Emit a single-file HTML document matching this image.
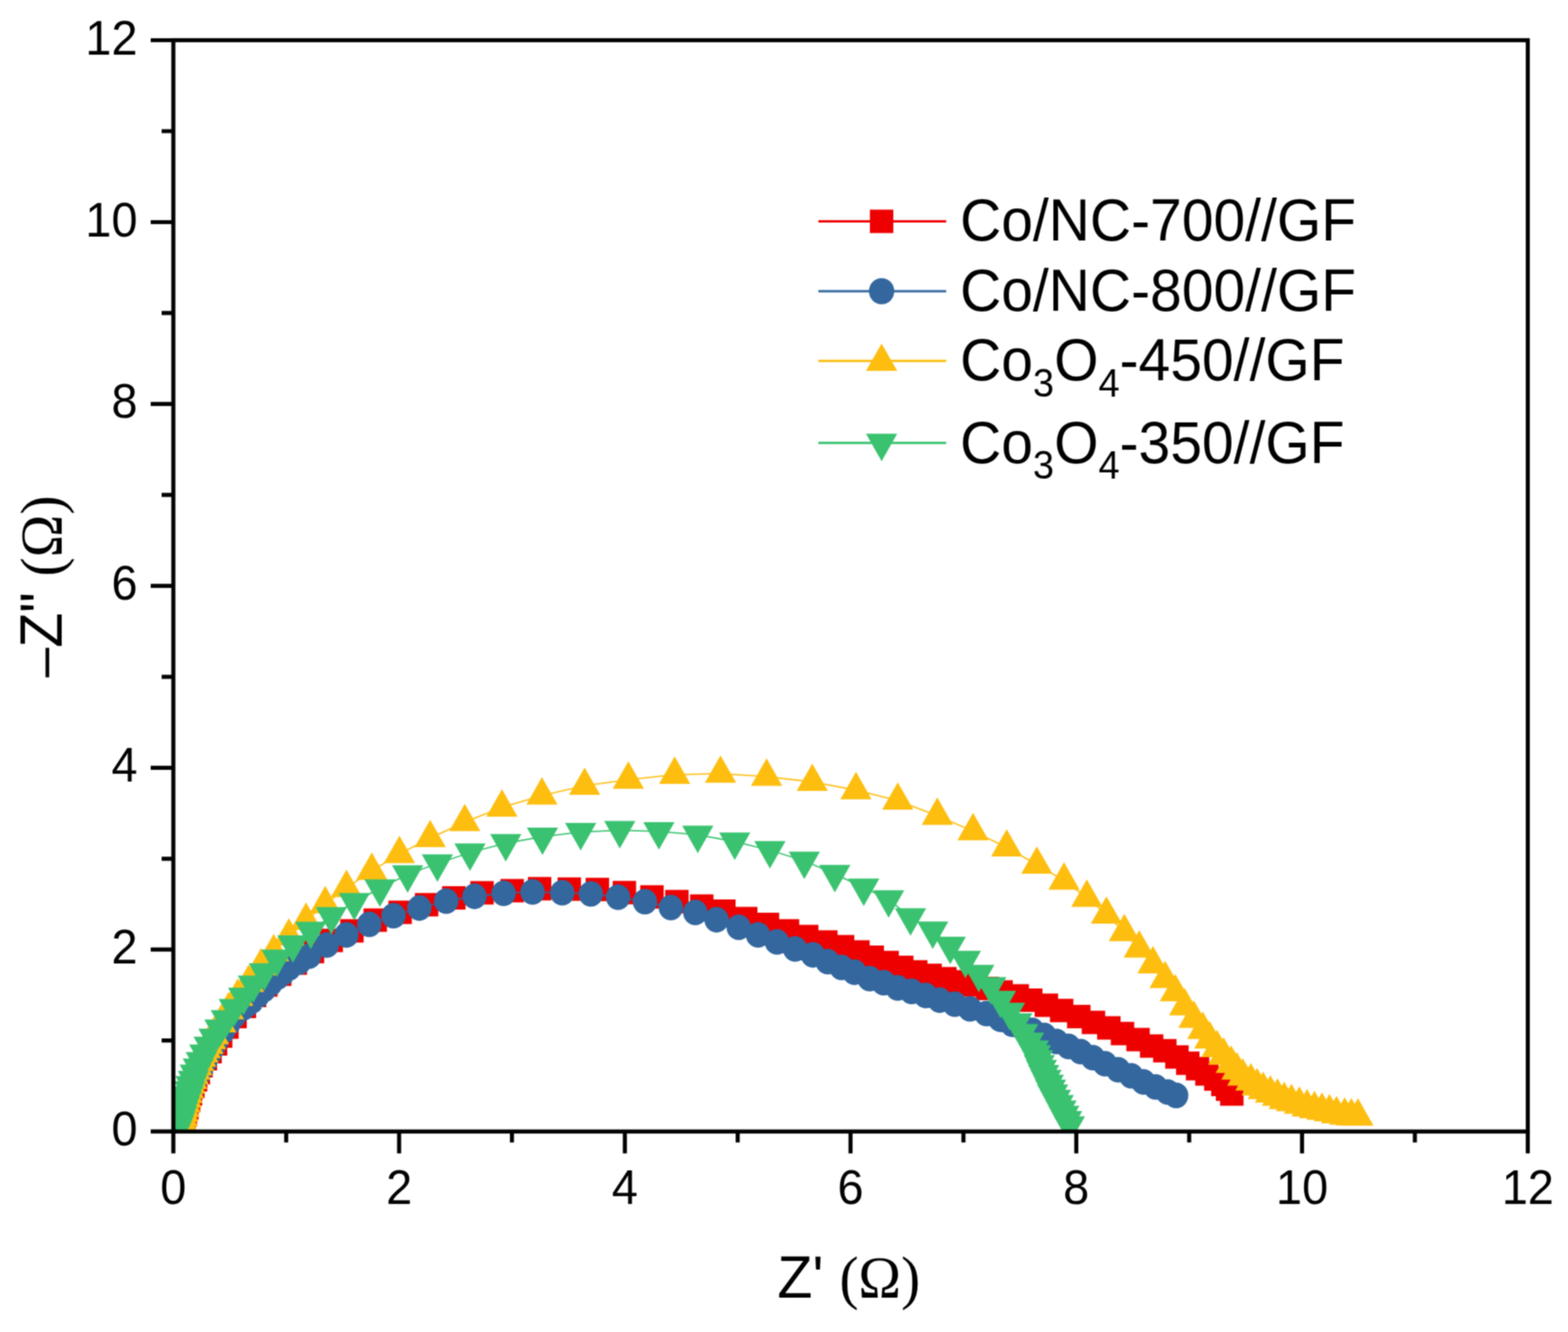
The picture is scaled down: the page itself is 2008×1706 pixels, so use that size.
<!DOCTYPE html><html><head><meta charset="utf-8"><title>Nyquist plot</title><style>html,body{margin:0;padding:0;background:#fff;}svg{display:block;}text{font-family:"Liberation Sans",Arial,sans-serif;fill:#000;}.tm{font-family:"Liberation Serif","Times New Roman",serif;}</style></head><body>
<svg width="2008" height="1706" viewBox="0 0 2008 1706">
<defs><clipPath id="pc"><rect x="222.0" y="51.5" width="1734.5" height="1397.7"/></clipPath>
<filter id="soft" x="0" y="0" width="100%" height="100%" filterUnits="userSpaceOnUse" color-interpolation-filters="sRGB"><feConvolveMatrix order="3" kernelMatrix="1 2 1 2 4 2 1 2 1" divisor="16" edgeMode="duplicate"/></filter></defs>
<g filter="url(#soft)">
<rect width="2008" height="1706" fill="#fff"/>
<g clip-path="url(#pc)">
<polyline points="234,1447 235.5,1437.5 237.3,1428 239.3,1419 241.5,1410 244,1401 247,1392 250.5,1383 254,1374 257.5,1365 263,1356 269,1347 276,1337 282.6,1327 290.6,1315.6 301,1302 313,1289 326,1275 340.5,1261.5 358.3,1247.8 378.2,1233.6 400.2,1218.7 424.2,1204.5 450.7,1192.2 480.5,1178.6 512.4,1168.4 546.3,1158.8 581.2,1150 617.3,1143.6 655.9,1140.8 691,1138.3 729,1138.8 765,1139.3 799.6,1143.2 834.9,1148.8 866.8,1154.8 898.7,1160.5 927,1167.1 955,1176.5 982.8,1184 1008.5,1192.2 1033.1,1199.4 1057.6,1206.6 1079,1212.6 1098.7,1219.3 1117,1226 1136.1,1232.8 1154.8,1239 1172.7,1244.7 1191.1,1249.2 1210,1253.4 1228,1257.5 1246,1261.5 1264.6,1266 1282,1270.6 1302.7,1275.4 1320,1281 1340,1287.5 1359.6,1294.3 1381.5,1302 1400.3,1309.4 1420,1316.5 1437.5,1323.7 1457.4,1331.4 1474.8,1339.8 1491.7,1345.7 1507.2,1353.7 1521.1,1361.7 1533.6,1368.7 1545.6,1375.6 1557,1382.1 1566,1389.1 1572,1395 1577.5,1401.3" fill="none" stroke="#EE0000" stroke-width="1.8"/>
<path fill="#EE0000" d="M219 1432h30v30h-30zM220.5 1422.5h30v30h-30zM222.3 1413h30v30h-30zM224.3 1404h30v30h-30zM226.5 1395h30v30h-30zM229 1386h30v30h-30zM232 1377h30v30h-30zM235.5 1368h30v30h-30zM239 1359h30v30h-30zM242.5 1350h30v30h-30zM248 1341h30v30h-30zM254 1332h30v30h-30zM261 1322h30v30h-30zM267.6 1312h30v30h-30zM275.6 1300.6h30v30h-30zM286 1287h30v30h-30zM298 1274h30v30h-30zM311 1260h30v30h-30zM325.5 1246.5h30v30h-30zM343.3 1232.8h30v30h-30zM363.2 1218.6h30v30h-30zM385.2 1203.7h30v30h-30zM409.2 1189.5h30v30h-30zM435.7 1177.2h30v30h-30zM465.5 1163.6h30v30h-30zM497.4 1153.4h30v30h-30zM531.3 1143.8h30v30h-30zM566.2 1135h30v30h-30zM602.3 1128.6h30v30h-30zM640.9 1125.8h30v30h-30zM676 1123.3h30v30h-30zM714 1123.8h30v30h-30zM750 1124.3h30v30h-30zM784.6 1128.2h30v30h-30zM819.9 1133.8h30v30h-30zM851.8 1139.8h30v30h-30zM883.7 1145.5h30v30h-30zM912 1152.1h30v30h-30zM940 1161.5h30v30h-30zM967.8 1169h30v30h-30zM993.5 1177.2h30v30h-30zM1018.1 1184.4h30v30h-30zM1042.6 1191.6h30v30h-30zM1064 1197.6h30v30h-30zM1083.7 1204.3h30v30h-30zM1102 1211h30v30h-30zM1121.1 1217.8h30v30h-30zM1139.8 1224h30v30h-30zM1157.7 1229.7h30v30h-30zM1176.1 1234.2h30v30h-30zM1195 1238.4h30v30h-30zM1213 1242.5h30v30h-30zM1231 1246.5h30v30h-30zM1249.6 1251h30v30h-30zM1267 1255.6h30v30h-30zM1287.7 1260.4h30v30h-30zM1305 1266h30v30h-30zM1325 1272.5h30v30h-30zM1344.6 1279.3h30v30h-30zM1366.5 1287h30v30h-30zM1385.3 1294.4h30v30h-30zM1405 1301.5h30v30h-30zM1422.5 1308.7h30v30h-30zM1442.4 1316.4h30v30h-30zM1459.8 1324.8h30v30h-30zM1476.7 1330.7h30v30h-30zM1492.2 1338.7h30v30h-30zM1506.1 1346.7h30v30h-30zM1518.6 1353.7h30v30h-30zM1530.6 1360.6h30v30h-30zM1542 1367.1h30v30h-30zM1551 1374.1h30v30h-30zM1557 1380h30v30h-30zM1562.5 1386.3h30v30h-30z"/>
<polyline points="233,1449 234.5,1440 236,1431 238,1422 240,1413 242.5,1404 245.5,1395 249,1386 253.5,1377 258,1368 263,1359 268,1350 273,1341 278.5,1331 285.5,1321 292.5,1311 299.8,1301.1 311,1291.2 316.7,1286.5 322.4,1282.1 330,1274.8 337.7,1267.6 346.4,1259.6 355.2,1251.6 362.6,1245.8 370,1240 383,1232.2 395.8,1224.7 418.5,1210.4 443.7,1197.5 472.9,1183.9 504,1172.8 537,1163 571.4,1154.2 607.7,1148 645,1144.1 682,1142.4 720,1143.4 756.6,1144.8 791.5,1149.1 825.9,1154.8 859.1,1162.3 890.4,1168.6 917.6,1178 946,1187.7 970.8,1197.4 995,1206.4 1018.2,1215.3 1041,1223 1059.9,1231.7 1077.8,1239.2 1094.2,1245.2 1113.7,1253.4 1131.6,1258.6 1149.5,1265.3 1167.5,1269.8 1185.4,1275 1203.3,1281 1222.7,1286.2 1242.2,1292.2 1263.1,1298.2 1281,1305.5 1296.5,1311.8 1309.5,1316 1321.8,1319.6 1337.3,1326.1 1352.9,1333.9 1368.4,1340.3 1383.9,1346.8 1399.5,1354.6 1415,1362.4 1431.9,1370.1 1448.7,1377.9 1464.2,1385.7 1479.8,1392.1 1495.3,1398.6 1506.2,1403" fill="none" stroke="#33679E" stroke-width="1.8"/>
<path fill="#33679E" d="M217.4 1449a15.6 16.4 0 1 0 31.2 0a15.6 16.4 0 1 0 -31.2 0zM218.9 1440a15.6 16.4 0 1 0 31.2 0a15.6 16.4 0 1 0 -31.2 0zM220.4 1431a15.6 16.4 0 1 0 31.2 0a15.6 16.4 0 1 0 -31.2 0zM222.4 1422a15.6 16.4 0 1 0 31.2 0a15.6 16.4 0 1 0 -31.2 0zM224.4 1413a15.6 16.4 0 1 0 31.2 0a15.6 16.4 0 1 0 -31.2 0zM226.9 1404a15.6 16.4 0 1 0 31.2 0a15.6 16.4 0 1 0 -31.2 0zM229.9 1395a15.6 16.4 0 1 0 31.2 0a15.6 16.4 0 1 0 -31.2 0zM233.4 1386a15.6 16.4 0 1 0 31.2 0a15.6 16.4 0 1 0 -31.2 0zM237.9 1377a15.6 16.4 0 1 0 31.2 0a15.6 16.4 0 1 0 -31.2 0zM242.4 1368a15.6 16.4 0 1 0 31.2 0a15.6 16.4 0 1 0 -31.2 0zM247.4 1359a15.6 16.4 0 1 0 31.2 0a15.6 16.4 0 1 0 -31.2 0zM252.4 1350a15.6 16.4 0 1 0 31.2 0a15.6 16.4 0 1 0 -31.2 0zM257.4 1341a15.6 16.4 0 1 0 31.2 0a15.6 16.4 0 1 0 -31.2 0zM262.9 1331a15.6 16.4 0 1 0 31.2 0a15.6 16.4 0 1 0 -31.2 0zM269.9 1321a15.6 16.4 0 1 0 31.2 0a15.6 16.4 0 1 0 -31.2 0zM276.9 1311a15.6 16.4 0 1 0 31.2 0a15.6 16.4 0 1 0 -31.2 0zM284.2 1301.1a15.6 16.4 0 1 0 31.2 0a15.6 16.4 0 1 0 -31.2 0zM295.4 1291.2a15.6 16.4 0 1 0 31.2 0a15.6 16.4 0 1 0 -31.2 0zM301.1 1286.5a15.6 16.4 0 1 0 31.2 0a15.6 16.4 0 1 0 -31.2 0zM306.8 1282.1a15.6 16.4 0 1 0 31.2 0a15.6 16.4 0 1 0 -31.2 0zM314.4 1274.8a15.6 16.4 0 1 0 31.2 0a15.6 16.4 0 1 0 -31.2 0zM322.1 1267.6a15.6 16.4 0 1 0 31.2 0a15.6 16.4 0 1 0 -31.2 0zM330.8 1259.6a15.6 16.4 0 1 0 31.2 0a15.6 16.4 0 1 0 -31.2 0zM339.6 1251.6a15.6 16.4 0 1 0 31.2 0a15.6 16.4 0 1 0 -31.2 0zM347 1245.8a15.6 16.4 0 1 0 31.2 0a15.6 16.4 0 1 0 -31.2 0zM354.4 1240a15.6 16.4 0 1 0 31.2 0a15.6 16.4 0 1 0 -31.2 0zM367.4 1232.2a15.6 16.4 0 1 0 31.2 0a15.6 16.4 0 1 0 -31.2 0zM380.2 1224.7a15.6 16.4 0 1 0 31.2 0a15.6 16.4 0 1 0 -31.2 0zM402.9 1210.4a15.6 16.4 0 1 0 31.2 0a15.6 16.4 0 1 0 -31.2 0zM428.1 1197.5a15.6 16.4 0 1 0 31.2 0a15.6 16.4 0 1 0 -31.2 0zM457.3 1183.9a15.6 16.4 0 1 0 31.2 0a15.6 16.4 0 1 0 -31.2 0zM488.4 1172.8a15.6 16.4 0 1 0 31.2 0a15.6 16.4 0 1 0 -31.2 0zM521.4 1163a15.6 16.4 0 1 0 31.2 0a15.6 16.4 0 1 0 -31.2 0zM555.8 1154.2a15.6 16.4 0 1 0 31.2 0a15.6 16.4 0 1 0 -31.2 0zM592.1 1148a15.6 16.4 0 1 0 31.2 0a15.6 16.4 0 1 0 -31.2 0zM629.4 1144.1a15.6 16.4 0 1 0 31.2 0a15.6 16.4 0 1 0 -31.2 0zM666.4 1142.4a15.6 16.4 0 1 0 31.2 0a15.6 16.4 0 1 0 -31.2 0zM704.4 1143.4a15.6 16.4 0 1 0 31.2 0a15.6 16.4 0 1 0 -31.2 0zM741 1144.8a15.6 16.4 0 1 0 31.2 0a15.6 16.4 0 1 0 -31.2 0zM775.9 1149.1a15.6 16.4 0 1 0 31.2 0a15.6 16.4 0 1 0 -31.2 0zM810.3 1154.8a15.6 16.4 0 1 0 31.2 0a15.6 16.4 0 1 0 -31.2 0zM843.5 1162.3a15.6 16.4 0 1 0 31.2 0a15.6 16.4 0 1 0 -31.2 0zM874.8 1168.6a15.6 16.4 0 1 0 31.2 0a15.6 16.4 0 1 0 -31.2 0zM902 1178a15.6 16.4 0 1 0 31.2 0a15.6 16.4 0 1 0 -31.2 0zM930.4 1187.7a15.6 16.4 0 1 0 31.2 0a15.6 16.4 0 1 0 -31.2 0zM955.2 1197.4a15.6 16.4 0 1 0 31.2 0a15.6 16.4 0 1 0 -31.2 0zM979.4 1206.4a15.6 16.4 0 1 0 31.2 0a15.6 16.4 0 1 0 -31.2 0zM1002.6 1215.3a15.6 16.4 0 1 0 31.2 0a15.6 16.4 0 1 0 -31.2 0zM1025.4 1223a15.6 16.4 0 1 0 31.2 0a15.6 16.4 0 1 0 -31.2 0zM1044.3 1231.7a15.6 16.4 0 1 0 31.2 0a15.6 16.4 0 1 0 -31.2 0zM1062.2 1239.2a15.6 16.4 0 1 0 31.2 0a15.6 16.4 0 1 0 -31.2 0zM1078.6 1245.2a15.6 16.4 0 1 0 31.2 0a15.6 16.4 0 1 0 -31.2 0zM1098.1 1253.4a15.6 16.4 0 1 0 31.2 0a15.6 16.4 0 1 0 -31.2 0zM1116 1258.6a15.6 16.4 0 1 0 31.2 0a15.6 16.4 0 1 0 -31.2 0zM1133.9 1265.3a15.6 16.4 0 1 0 31.2 0a15.6 16.4 0 1 0 -31.2 0zM1151.9 1269.8a15.6 16.4 0 1 0 31.2 0a15.6 16.4 0 1 0 -31.2 0zM1169.8 1275a15.6 16.4 0 1 0 31.2 0a15.6 16.4 0 1 0 -31.2 0zM1187.7 1281a15.6 16.4 0 1 0 31.2 0a15.6 16.4 0 1 0 -31.2 0zM1207.1 1286.2a15.6 16.4 0 1 0 31.2 0a15.6 16.4 0 1 0 -31.2 0zM1226.6 1292.2a15.6 16.4 0 1 0 31.2 0a15.6 16.4 0 1 0 -31.2 0zM1247.5 1298.2a15.6 16.4 0 1 0 31.2 0a15.6 16.4 0 1 0 -31.2 0zM1265.4 1305.5a15.6 16.4 0 1 0 31.2 0a15.6 16.4 0 1 0 -31.2 0zM1280.9 1311.8a15.6 16.4 0 1 0 31.2 0a15.6 16.4 0 1 0 -31.2 0zM1293.9 1316a15.6 16.4 0 1 0 31.2 0a15.6 16.4 0 1 0 -31.2 0zM1306.2 1319.6a15.6 16.4 0 1 0 31.2 0a15.6 16.4 0 1 0 -31.2 0zM1321.7 1326.1a15.6 16.4 0 1 0 31.2 0a15.6 16.4 0 1 0 -31.2 0zM1337.3 1333.9a15.6 16.4 0 1 0 31.2 0a15.6 16.4 0 1 0 -31.2 0zM1352.8 1340.3a15.6 16.4 0 1 0 31.2 0a15.6 16.4 0 1 0 -31.2 0zM1368.3 1346.8a15.6 16.4 0 1 0 31.2 0a15.6 16.4 0 1 0 -31.2 0zM1383.9 1354.6a15.6 16.4 0 1 0 31.2 0a15.6 16.4 0 1 0 -31.2 0zM1399.4 1362.4a15.6 16.4 0 1 0 31.2 0a15.6 16.4 0 1 0 -31.2 0zM1416.3 1370.1a15.6 16.4 0 1 0 31.2 0a15.6 16.4 0 1 0 -31.2 0zM1433.1 1377.9a15.6 16.4 0 1 0 31.2 0a15.6 16.4 0 1 0 -31.2 0zM1448.6 1385.7a15.6 16.4 0 1 0 31.2 0a15.6 16.4 0 1 0 -31.2 0zM1464.2 1392.1a15.6 16.4 0 1 0 31.2 0a15.6 16.4 0 1 0 -31.2 0zM1479.7 1398.6a15.6 16.4 0 1 0 31.2 0a15.6 16.4 0 1 0 -31.2 0zM1490.6 1403a15.6 16.4 0 1 0 31.2 0a15.6 16.4 0 1 0 -31.2 0z"/>
<polyline points="236,1452 233,1443 232.5,1437 233.5,1431 234.5,1425 235.5,1419 237,1413 238.5,1407 240,1401 241.7,1395 243.5,1389 245.5,1383 247.5,1377 249.7,1371 252,1365.5 254.5,1360 257,1354.5 260,1349 263,1343.5 266.3,1338 269.8,1332 273.6,1325.8 282.8,1310.6 292.7,1293.8 304.5,1276.6 318.4,1258.8 334.3,1237.6 350.5,1219.5 369.9,1199.4 391.9,1179.3 416.5,1158 443.7,1137.3 476.1,1115.2 511.5,1093.8 550.9,1073.4 595.2,1052.9 642.8,1034.2 694,1018.8 748.7,1006.4 804.7,998.6 864,992.2 922.7,990.9 981.7,994.7 1040.2,1001.4 1096.2,1012 1149.7,1025.4 1200.3,1044.8 1246.1,1064.5 1289.2,1085.4 1327.8,1107.4 1362.6,1127.8 1391.8,1149.7 1416.9,1171.4 1439.8,1193.8 1458.9,1214.7 1476.5,1235 1492,1253.9 1505.1,1270.9 1517,1288.7 1528.9,1304.8 1540.3,1319.1 1549.2,1331.3 1558.5,1342.4 1567,1352 1576.7,1362.6 1584,1371 1591.5,1378.7 1601.9,1385 1609.9,1391.3 1617.7,1396 1626.9,1400.5 1636,1404.5 1644.6,1408.8 1653.8,1411.5 1664,1414.8 1673.8,1418.2 1683.3,1420.5 1693,1422.6 1702.5,1424.6 1711.6,1427 1722,1428.7 1730.5,1429.8 1739,1430" fill="none" stroke="#FEBE10" stroke-width="1.8"/>
<path fill="#FEBE10" d="M236 1428.5L256 1463.7H216zM233 1419.5L253 1454.7H213zM232.5 1413.5L252.5 1448.7H212.5zM233.5 1407.5L253.5 1442.7H213.5zM234.5 1401.5L254.5 1436.7H214.5zM235.5 1395.5L255.5 1430.7H215.5zM237 1389.5L257 1424.7H217zM238.5 1383.5L258.5 1418.7H218.5zM240 1377.5L260 1412.7H220zM241.7 1371.5L261.7 1406.7H221.7zM243.5 1365.5L263.5 1400.7H223.5zM245.5 1359.5L265.5 1394.7H225.5zM247.5 1353.5L267.5 1388.7H227.5zM249.7 1347.5L269.7 1382.7H229.7zM252 1342L272 1377.2H232zM254.5 1336.5L274.5 1371.7H234.5zM257 1331L277 1366.2H237zM260 1325.5L280 1360.7H240zM263 1320L283 1355.2H243zM266.3 1314.5L286.3 1349.7H246.3zM269.8 1308.5L289.8 1343.7H249.8zM273.6 1302.3L293.6 1337.5H253.6zM282.8 1287.1L302.8 1322.3H262.8zM292.7 1270.3L312.7 1305.5H272.7zM304.5 1253.1L324.5 1288.3H284.5zM318.4 1235.3L338.4 1270.5H298.4zM334.3 1214.1L354.3 1249.3H314.3zM350.5 1196L370.5 1231.2H330.5zM369.9 1175.9L389.9 1211.1H349.9zM391.9 1155.8L411.9 1191H371.9zM416.5 1134.5L436.5 1169.7H396.5zM443.7 1113.8L463.7 1149H423.7zM476.1 1091.7L496.1 1126.9H456.1zM511.5 1070.3L531.5 1105.5H491.5zM550.9 1049.9L570.9 1085.1H530.9zM595.2 1029.4L615.2 1064.6H575.2zM642.8 1010.7L662.8 1045.9H622.8zM694 995.3L714 1030.5H674zM748.7 982.9L768.7 1018.1H728.7zM804.7 975.1L824.7 1010.3H784.7zM864 968.7L884 1003.9H844zM922.7 967.4L942.7 1002.6H902.7zM981.7 971.2L1001.7 1006.4H961.7zM1040.2 977.9L1060.2 1013.1H1020.2zM1096.2 988.5L1116.2 1023.7H1076.2zM1149.7 1001.9L1169.7 1037.1H1129.7zM1200.3 1021.3L1220.3 1056.5H1180.3zM1246.1 1041L1266.1 1076.2H1226.1zM1289.2 1061.9L1309.2 1097.1H1269.2zM1327.8 1083.9L1347.8 1119.1H1307.8zM1362.6 1104.3L1382.6 1139.5H1342.6zM1391.8 1126.2L1411.8 1161.4H1371.8zM1416.9 1147.9L1436.9 1183.1H1396.9zM1439.8 1170.3L1459.8 1205.5H1419.8zM1458.9 1191.2L1478.9 1226.4H1438.9zM1476.5 1211.5L1496.5 1246.7H1456.5zM1492 1230.4L1512 1265.6H1472zM1505.1 1247.4L1525.1 1282.6H1485.1zM1517 1265.2L1537 1300.4H1497zM1528.9 1281.3L1548.9 1316.5H1508.9zM1540.3 1295.6L1560.3 1330.8H1520.3zM1549.2 1307.8L1569.2 1343H1529.2zM1558.5 1318.9L1578.5 1354.1H1538.5zM1567 1328.5L1587 1363.7H1547zM1576.7 1339.1L1596.7 1374.3H1556.7zM1584 1347.5L1604 1382.7H1564zM1591.5 1355.2L1611.5 1390.4H1571.5zM1601.9 1361.5L1621.9 1396.7H1581.9zM1609.9 1367.8L1629.9 1403H1589.9zM1617.7 1372.5L1637.7 1407.7H1597.7zM1626.9 1377L1646.9 1412.2H1606.9zM1636 1381L1656 1416.2H1616zM1644.6 1385.3L1664.6 1420.5H1624.6zM1653.8 1388L1673.8 1423.2H1633.8zM1664 1391.3L1684 1426.5H1644zM1673.8 1394.7L1693.8 1429.9H1653.8zM1683.3 1397L1703.3 1432.2H1663.3zM1693 1399.1L1713 1434.3H1673zM1702.5 1401.1L1722.5 1436.3H1682.5zM1711.6 1403.5L1731.6 1438.7H1691.6zM1722 1405.2L1742 1440.4H1702zM1730.5 1406.3L1750.5 1441.5H1710.5zM1739 1406.5L1759 1441.7H1719z"/>
<polyline points="224,1452 226,1447 228.5,1441 230.5,1435 232.5,1429 234.2,1422.5 236.3,1416 238.5,1409.5 240.7,1403 243,1396.5 244.6,1390 247.6,1383.3 250,1375.3 253.9,1367.5 257.7,1359.1 262.2,1349.5 267.8,1339.5 274,1329.2 281.6,1317.5 289.8,1305.5 300,1291.2 312,1276.7 324.4,1261.1 338.5,1245.5 354.6,1227.9 375.1,1209.8 398,1192.3 424.3,1173.5 453.7,1155.4 486.5,1137.9 522,1120 560.1,1106 601.9,1092 647.7,1080 694.7,1071.6 743.6,1065.7 793.7,1063.3 843.8,1064.8 893.6,1069.2 940.9,1078 986,1089 1030,1102.5 1069.1,1119.4 1106.1,1136.9 1138,1152 1166,1175 1194.5,1192 1216.9,1211.5 1236.3,1229.5 1253.5,1247.4 1268.8,1263.3 1281.3,1280.8 1292.8,1296 1302,1309.5 1309.8,1323.2 1317.2,1334.3 1323.4,1344.2 1326,1350.5 1328.6,1356.8 1331,1363 1333.6,1369.3 1336.5,1375.6 1339.5,1382 1342.5,1388.3 1345.3,1394.5 1348,1400.8 1351.6,1407.6 1355.2,1414.4 1358.8,1421.2 1362.3,1427.9 1365.9,1434.7 1369.5,1441.5" fill="none" stroke="#3AC270" stroke-width="1.8"/>
<path fill="#3AC270" d="M224 1475.5L244 1440.3H204zM226 1470.5L246 1435.3H206zM228.5 1464.5L248.5 1429.3H208.5zM230.5 1458.5L250.5 1423.3H210.5zM232.5 1452.5L252.5 1417.3H212.5zM234.2 1446L254.2 1410.8H214.2zM236.3 1439.5L256.3 1404.3H216.3zM238.5 1433L258.5 1397.8H218.5zM240.7 1426.5L260.7 1391.3H220.7zM243 1420L263 1384.8H223zM244.6 1413.5L264.6 1378.3H224.6zM247.6 1406.8L267.6 1371.6H227.6zM250 1398.8L270 1363.6H230zM253.9 1391L273.9 1355.8H233.9zM257.7 1382.6L277.7 1347.4H237.7zM262.2 1373L282.2 1337.8H242.2zM267.8 1363L287.8 1327.8H247.8zM274 1352.7L294 1317.5H254zM281.6 1341L301.6 1305.8H261.6zM289.8 1329L309.8 1293.8H269.8zM300 1314.7L320 1279.5H280zM312 1300.2L332 1265H292zM324.4 1284.6L344.4 1249.4H304.4zM338.5 1269L358.5 1233.8H318.5zM354.6 1251.4L374.6 1216.2H334.6zM375.1 1233.3L395.1 1198.1H355.1zM398 1215.8L418 1180.6H378zM424.3 1197L444.3 1161.8H404.3zM453.7 1178.9L473.7 1143.7H433.7zM486.5 1161.4L506.5 1126.2H466.5zM522 1143.5L542 1108.3H502zM560.1 1129.5L580.1 1094.3H540.1zM601.9 1115.5L621.9 1080.3H581.9zM647.7 1103.5L667.7 1068.3H627.7zM694.7 1095.1L714.7 1059.9H674.7zM743.6 1089.2L763.6 1054H723.6zM793.7 1086.8L813.7 1051.6H773.7zM843.8 1088.3L863.8 1053.1H823.8zM893.6 1092.7L913.6 1057.5H873.6zM940.9 1101.5L960.9 1066.3H920.9zM986 1112.5L1006 1077.3H966zM1030 1126L1050 1090.8H1010zM1069.1 1142.9L1089.1 1107.7H1049.1zM1106.1 1160.4L1126.1 1125.2H1086.1zM1138 1175.5L1158 1140.3H1118zM1166 1198.5L1186 1163.3H1146zM1194.5 1215.5L1214.5 1180.3H1174.5zM1216.9 1235L1236.9 1199.8H1196.9zM1236.3 1253L1256.3 1217.8H1216.3zM1253.5 1270.9L1273.5 1235.7H1233.5zM1268.8 1286.8L1288.8 1251.6H1248.8zM1281.3 1304.3L1301.3 1269.1H1261.3zM1292.8 1319.5L1312.8 1284.3H1272.8zM1302 1333L1322 1297.8H1282zM1309.8 1346.7L1329.8 1311.5H1289.8zM1317.2 1357.8L1337.2 1322.6H1297.2zM1323.4 1367.7L1343.4 1332.5H1303.4zM1326 1374L1346 1338.8H1306zM1328.6 1380.3L1348.6 1345.1H1308.6zM1331 1386.5L1351 1351.3H1311zM1333.6 1392.8L1353.6 1357.6H1313.6zM1336.5 1399.1L1356.5 1363.9H1316.5zM1339.5 1405.5L1359.5 1370.3H1319.5zM1342.5 1411.8L1362.5 1376.6H1322.5zM1345.3 1418L1365.3 1382.8H1325.3zM1348 1424.3L1368 1389.1H1328zM1351.6 1431L1371.6 1395.8H1331.6zM1355.2 1437.8L1375.2 1402.6H1335.2zM1358.8 1444.6L1378.8 1409.4H1338.8zM1362.3 1451.4L1382.3 1416.2H1342.3zM1365.9 1458.2L1385.9 1423H1345.9zM1369.5 1465L1389.5 1429.8H1349.5z"/>
</g>
<rect x="222.0" y="51.5" width="1734.5" height="1397.7" fill="none" stroke="#000" stroke-width="5.2"/>
<path d="M193 1449.2H222M222 1449.2V1477.2M207 1332.7H222M366.5 1449.2V1463.2M193 1216.2H222M511.1 1449.2V1477.2M207 1099.8H222M655.6 1449.2V1463.2M193 983.3H222M800.2 1449.2V1477.2M207 866.8H222M944.7 1449.2V1463.2M193 750.4H222M1089.2 1449.2V1477.2M207 633.9H222M1233.8 1449.2V1463.2M193 517.4H222M1378.3 1449.2V1477.2M207 400.9H222M1522.9 1449.2V1463.2M193 284.5H222M1667.4 1449.2V1477.2M207 168H222M1811.9 1449.2V1463.2M193 51.5H222M1956.5 1449.2V1477.2" stroke="#000" stroke-width="5.2" fill="none"/>
<text transform="translate(176 1467.2) scale(1 1.05)" font-size="60" text-anchor="end">0</text><text transform="translate(222 1541.5) scale(1 1.05)" font-size="60" text-anchor="middle">0</text><text transform="translate(176 1234.2) scale(1 1.05)" font-size="60" text-anchor="end">2</text><text transform="translate(511.1 1541.5) scale(1 1.05)" font-size="60" text-anchor="middle">2</text><text transform="translate(176 1001.3) scale(1 1.05)" font-size="60" text-anchor="end">4</text><text transform="translate(800.2 1541.5) scale(1 1.05)" font-size="60" text-anchor="middle">4</text><text transform="translate(176 768.4) scale(1 1.05)" font-size="60" text-anchor="end">6</text><text transform="translate(1089.2 1541.5) scale(1 1.05)" font-size="60" text-anchor="middle">6</text><text transform="translate(176 535.4) scale(1 1.05)" font-size="60" text-anchor="end">8</text><text transform="translate(1378.3 1541.5) scale(1 1.05)" font-size="60" text-anchor="middle">8</text><text transform="translate(176 302.5) scale(1 1.05)" font-size="60" text-anchor="end">10</text><text transform="translate(1667.4 1541.5) scale(1 1.05)" font-size="60" text-anchor="middle">10</text><text transform="translate(176 69.5) scale(1 1.05)" font-size="60" text-anchor="end">12</text><text transform="translate(1956.5 1541.5) scale(1 1.05)" font-size="60" text-anchor="middle">12</text>
<text transform="translate(1087 1661.5) scale(1 1.035)" font-size="73.5" text-anchor="middle">Z' <tspan class="tm">(&#937;)</tspan></text>
<text transform="translate(79 751) rotate(-90) scale(1 1.035)" font-size="73.5" text-anchor="middle"><tspan font-size="68">&#8211;</tspan>Z&quot; <tspan class="tm">(&#937;)</tspan></text>
<path d="M1048 283.5H1211.7" stroke="#EE0000" stroke-width="3"/><path fill="#EE0000" d="M1114 268.5h30v30h-30z"/><text transform="translate(1229.5 308.3) scale(1 1.045)" font-size="73">Co/NC-700//GF</text><path d="M1048 373H1211.7" stroke="#33679E" stroke-width="3"/><path fill="#33679E" d="M1112.8 373a16.2 16.8 0 1 0 32.4 0a16.2 16.8 0 1 0 -32.4 0z"/><text transform="translate(1229.5 398.3) scale(1 1.045)" font-size="73">Co/NC-800//GF</text><path d="M1048 462.3H1211.7" stroke="#FEBE10" stroke-width="3"/><path fill="#FEBE10" d="M1129 439.9L1149 475.1H1109z"/><text transform="translate(1229.5 487.2) scale(1 1.045)" font-size="73">Co<tspan font-size="48.7" dy="19.5">3</tspan><tspan dy="-19.5">O</tspan><tspan font-size="48.7" dy="19.5">4</tspan><tspan dy="-19.5">-450//GF</tspan></text><path d="M1048 567.3H1211.7" stroke="#3AC270" stroke-width="3"/><path fill="#3AC270" d="M1129 590.8L1149 555.6H1109z"/><text transform="translate(1229.5 592.5) scale(1 1.045)" font-size="73">Co<tspan font-size="48.7" dy="19.5">3</tspan><tspan dy="-19.5">O</tspan><tspan font-size="48.7" dy="19.5">4</tspan><tspan dy="-19.5">-350//GF</tspan></text>
</g></svg></body></html>
